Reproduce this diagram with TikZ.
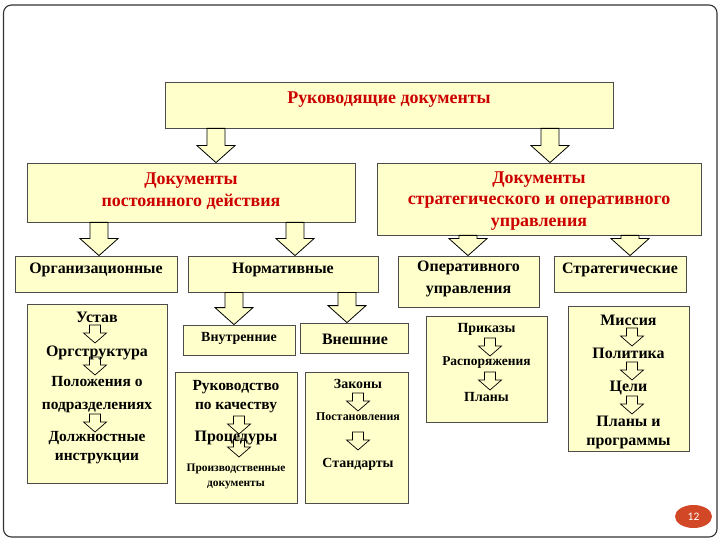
\documentclass[tikz,border=0pt]{standalone}
\usepackage{fontspec}
\setmainfont{Liberation Serif}
\newfontfamily\numfont{Carlito}
\usetikzlibrary{calc,shadows,shapes.geometric}
\definecolor{boxfill}{RGB}{255,255,204}
\definecolor{titlered}{RGB}{204,0,0}
\definecolor{numfill}{RGB}{210,71,38}
\newcommand\fsz[2]{\bfseries\fontsize{#1}{#2}\selectfont}
\newcommand\bigarr[2]{\draw[bigarrow] let \p1=#1, \p2=#2 in
  (\x1-9bp,\y1) -- (\x1+9bp,\y1) -- (\x1+9bp,\y2+17bp) -- (\x1+19bp,\y2+17bp)
  -- (\x1,\y2) -- (\x1-19bp,\y2+17bp) -- (\x1-9bp,\y2+17bp) -- cycle;}
\newcommand\smarr[1]{\draw[smallarrow] let \p1=#1 in
  (\x1-5.5bp,\y1+9bp) -- (\x1+5.5bp,\y1+9bp) -- (\x1+5.5bp,\y1+1bp) -- (\x1+11.5bp,\y1+1bp)
  -- (\x1,\y1-9bp) -- (\x1-11.5bp,\y1+1bp) -- (\x1-5.5bp,\y1+1bp) -- cycle;}
\begin{document}
\begin{tikzpicture}[x=1bp,y=-1bp,
  box/.style={draw=black!70, fill=boxfill, line width=0.8bp, inner sep=0pt,
    drop shadow={shadow xshift=1.3bp, shadow yshift=-1.3bp, fill=black!55, opacity=1}},
  txt/.style={align=center, inner sep=0pt, text=black},
  tl/.style={align=center, inner sep=0pt, text=titlered, font=\fsz{18}{21.5}},
  bigarrow/.style={draw=black, fill=boxfill, line width=0.8bp, line join=miter},
  smallarrow/.style={draw=black, line width=0.7bp, line join=miter}]
\useasboundingbox (0,0) rectangle (720,540);
\fill[white] (0,0) rectangle (720,540);
\draw[black!80, line width=1.1bp, rounded corners=8bp] (3.5,5) rectangle (717,537);

% coordinates for arrow columns
\coordinate (c1) at (216,0);
\coordinate (c2) at (550,0);
\coordinate (c3) at (99,0);
\coordinate (c4) at (295,0);
\coordinate (c5) at (468,0);
\coordinate (c6) at (630,0);
\coordinate (c7) at (234,0);
\coordinate (c8) at (347,0);

% level 1
\node[box, minimum width=448bp, minimum height=46bp] (top) at (389,105) {};
\node[tl] (topt) at (389,100) {Руководящие документы};

% level 2
\node[box, minimum width=328bp, minimum height=59bp] (docL) at (191,192.5) {};
\node[tl] (docLt) at (191,191) {Документы\\постоянного действия};
\node[box, minimum width=324bp, minimum height=72bp] (docR) at (539,199) {};
\node[tl] (docRt) at (539,201) {Документы\\стратегического и оперативного\\управления};

\bigarr{(top.south -| c1)}{(docL.north -| c1)}
\bigarr{(top.south -| c2)}{(docR.north -| c2)}

% level 3
\node[box, minimum width=162bp, minimum height=36bp] (org) at (96,274) {};
\node[txt, font=\fsz{16}{19}] (orgt) at (96,270) {Организационные};
\node[box, minimum width=190bp, minimum height=36bp] (norm) at (283,274) {};
\node[txt, font=\fsz{16}{19}] (normt) at (283,270) {Нормативные};
\node[box, minimum width=141bp, minimum height=51bp] (oper) at (468.5,281.5) {};
\node[txt, font=\fsz{16}{22}] (opert) at (468.5,279) {Оперативного\\управления};
\node[box, minimum width=132bp, minimum height=36bp] (strat) at (620,274) {};
\node[txt, font=\fsz{16}{19}] (stratt) at (620,270) {Стратегические};

\bigarr{(docL.south -| c3)}{(org.north -| c3)}
\bigarr{(docL.south -| c4)}{(norm.north -| c4)}
\bigarr{(docR.south -| c5)}{(oper.north -| c5)}
\bigarr{(docR.south -| c6)}{(strat.north -| c6)}

% level 4
\node[box, minimum width=112bp, minimum height=30bp] (vnut) at (239,340) {};
\node[txt, font=\fsz{14}{16}] (vnutt) at (239,338) {Внутренние};
\node[box, minimum width=108bp, minimum height=30bp] (vnesh) at (354,338) {};
\node[txt, font=\fsz{16}{19}] (vnesht) at (355,339) {Внешние};

\bigarr{(norm.south -| c7)}{(vnut.north -| c7)}
\bigarr{(norm.south -| c8)}{(vnesh.north -| c8)}

% detail boxes
\node[box, minimum width=140bp, minimum height=179bp] (ustav) at (97,393.5) {};
\node[txt, font=\fsz{16}{19}] (u1) at (97,317) {Устав};
\node[txt, font=\fsz{16}{19}] (u2) at (97,353) {Оргструктура};
\node[txt, font=\fsz{15.5}{23}] (u3) at (97,394.5) {Положения о\\подразделениях};
\node[txt, font=\fsz{15.5}{19}] (u4) at (97,447.5) {Должностные\\инструкции};
\smarr{(95,334)}
\smarr{(95,366)}
\smarr{(95,423)}

\node[box, minimum width=122bp, minimum height=131bp] (ruk) at (236,437.5) {};
\node[txt, font=\fsz{15.5}{19}] (r1) at (236,396.5) {Руководство\\по качеству};
\node[txt, font=\fsz{16}{19}] (r2) at (236,438) {Процедуры};
\node[txt, font=\fsz{11.5}{15}] (r3) at (236,476.5) {Производственные\\документы};
\smarr{(239,425)}
\smarr{(239,448)}

\node[box, minimum width=103bp, minimum height=131bp] (zak) at (356.5,437.5) {};
\node[txt, font=\fsz{14}{17}] (z1) at (358,384) {Законы};
\node[txt, font=\fsz{12}{15}] (z2) at (358,417) {Постановления};
\node[txt, font=\fsz{14}{17}] (z3) at (358,464) {Стандарты};
\smarr{(358,402)}
\smarr{(358,441)}

\node[box, minimum width=121bp, minimum height=106bp] (prik) at (486.5,369) {};
\node[txt, font=\fsz{14}{17}] (p1) at (486.5,329) {Приказы};
\node[txt, font=\fsz{13.5}{16}] (p2) at (486.5,363) {Распоряжения};
\node[txt, font=\fsz{14}{17}] (p3) at (486.5,397) {Планы};
\smarr{(490,347)}
\smarr{(490,381)}

\node[box, minimum width=121bp, minimum height=145bp] (miss) at (628.5,378.5) {};
\node[txt, font=\fsz{16}{19}] (m1) at (628.5,320) {Миссия};
\node[txt, font=\fsz{16}{19}] (m2) at (628.5,353) {Политика};
\node[txt, font=\fsz{16}{19}] (m3) at (628.5,388) {Цели};
\node[txt, font=\fsz{16}{19}] (m4) at (628.5,432.5) {Планы и\\программы};
\smarr{(632,337)}
\smarr{(632,371)}
\smarr{(632,405)}

% page number
\node[ellipse, fill=numfill, minimum width=37bp, minimum height=23bp, inner sep=0pt,
  text=white, font=\numfont\fontsize{11.5}{13}\selectfont] (pg) at (693.5,516.5) {12};
\end{tikzpicture}
\end{document}
